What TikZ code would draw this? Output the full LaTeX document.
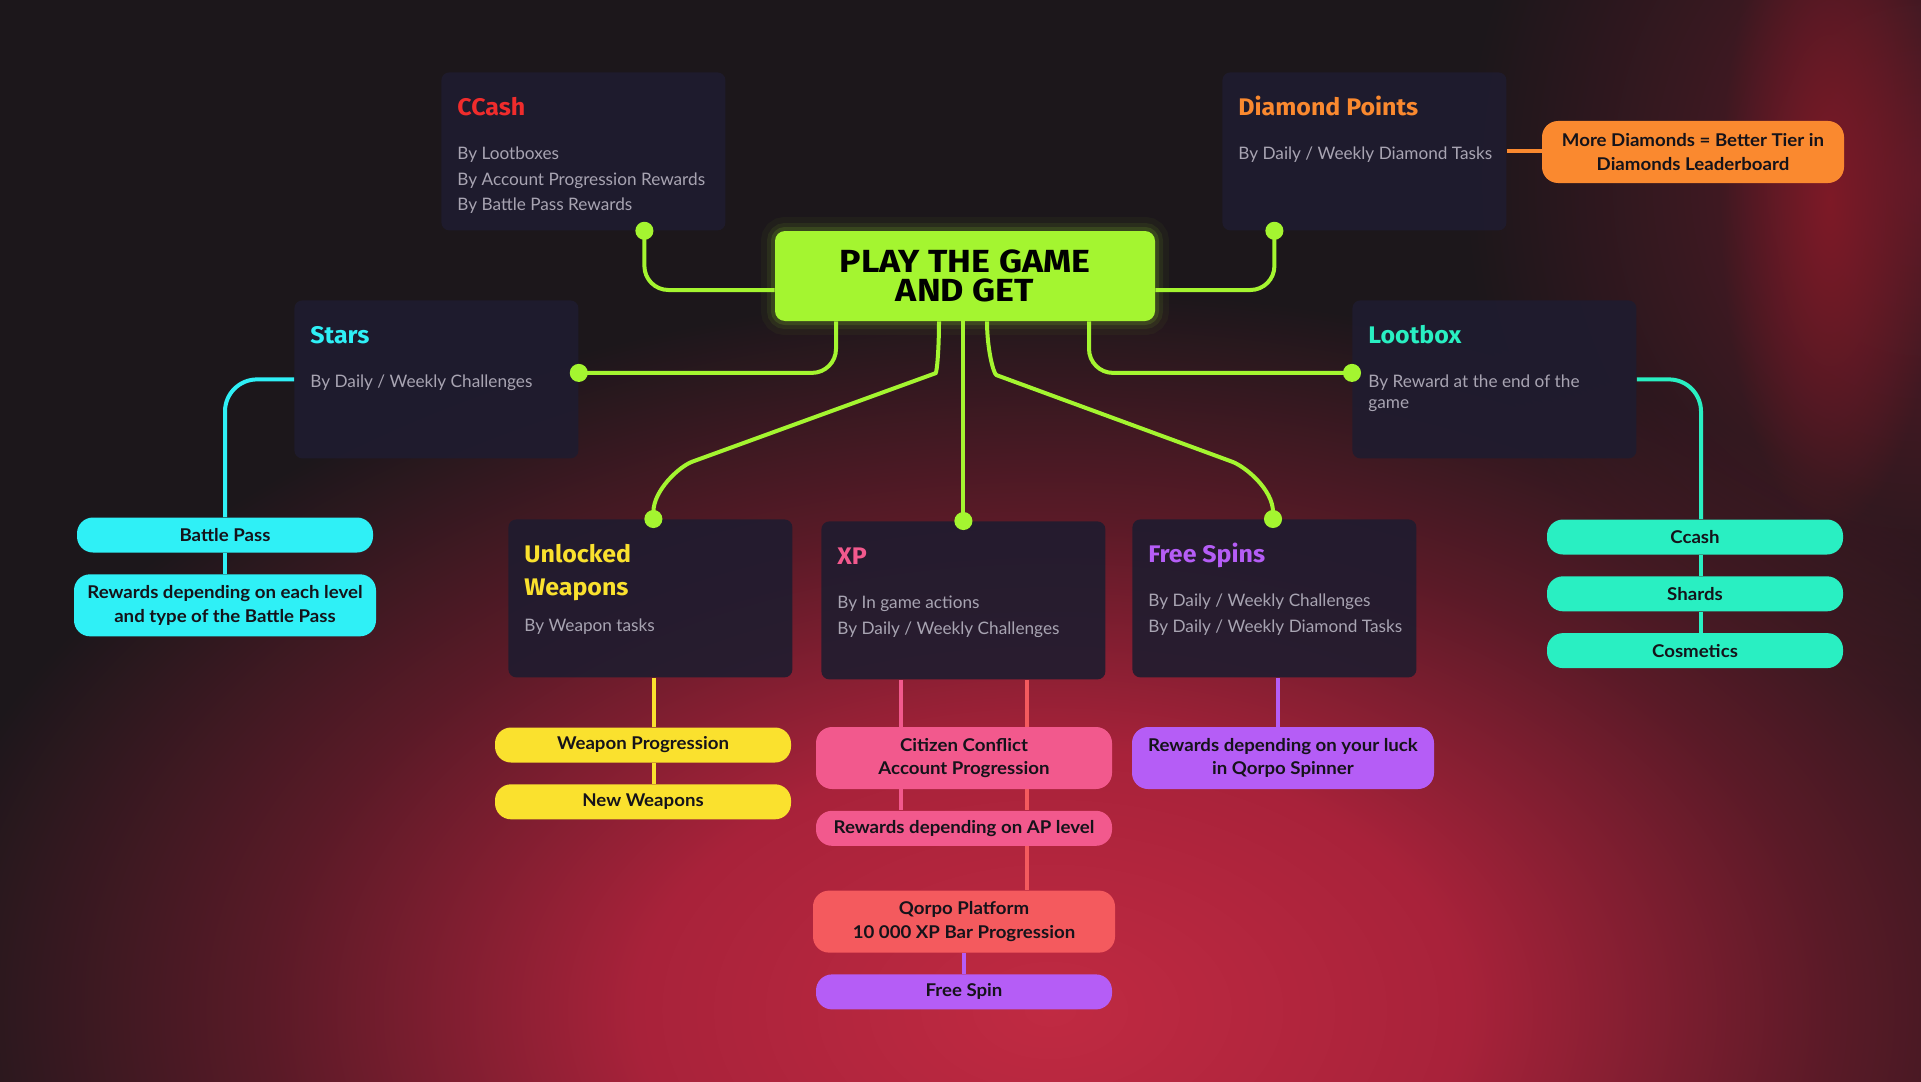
\documentclass[tikz,border=0pt]{standalone}
\usepackage{fontspec}
\setmainfont{Lato}
\newfontfamily\headfont{Fira Sans}[FakeStretch=1.04]
\newfontfamily\titlefont{Fira Sans}[FakeStretch=1.12]
\newfontfamily\pillfont{Lato}[FakeStretch=1.06]
\usepackage{tikz}
\usetikzlibrary{arrows.meta, positioning, fadings}

\definecolor{bgdark}{HTML}{1C171B}
\definecolor{bgmid}{HTML}{5A1A27}
\definecolor{bgred}{HTML}{A8223A}
\definecolor{bgbright}{HTML}{C02A42}
\definecolor{bgstreak}{HTML}{7E1A27}
\definecolor{cardbg}{HTML}{1F1C2F}
\definecolor{greytext}{HTML}{A8A4B2}
\definecolor{pilltext}{HTML}{15131A}
\definecolor{lime}{HTML}{A4F530}
\definecolor{ccashred}{HTML}{F02C2C}
\definecolor{diaorange}{HTML}{FA892F}
\definecolor{starcyan}{HTML}{2FF0F6}
\definecolor{lootteal}{HTML}{29EFC2}
\definecolor{weapyellow}{HTML}{FAE12E}
\definecolor{xppink}{HTML}{F2598D}
\definecolor{qorposalmon}{HTML}{F45A5E}
\definecolor{spinpurple}{HTML}{B55DF6}

\pgfdeclareradialshading{redglow}{\pgfpoint{0bp}{0bp}}{%
  color(0bp)=(bgbright); color(9bp)=(bgred); color(17bp)=(bgmid); color(25bp)=(bgdark); color(50bp)=(bgdark)}
\tikzfading[name=softglow, inner color=transparent!0, outer color=transparent!100]

% card text: heading on top, grey lines below
\newcommand{\cardtext}[4][9.15pt]{%
  \begin{minipage}[c][79pt][t]{142pt}\raggedright\leftskip=8pt
    \rule{0pt}{21.5pt}{\headfont\bfseries\fontsize{12}{16.5}\selectfont\color{#2}#3\par}
    \vspace{#1}
    {\fontsize{8.6}{10.5}\selectfont\setlength{\parskip}{2.35pt}\color{greytext}#4\par}
  \end{minipage}}

\begin{document}
\begin{tikzpicture}[x=0.5pt, y=-0.5pt,
    node distance=10.5pt,
    card/.style={anchor=north west, fill=cardbg, fill opacity=0.9, text opacity=1, rounded corners=4pt, inner sep=0pt},
    hub/.style={fill=lime, rounded corners=5pt, minimum width=190pt, minimum height=45pt, align=center, text=black,
      font=\titlefont\bfseries\fontsize{16}{14.5}\selectfont,
      preaction={draw=lime, line width=14pt, draw opacity=0.04},
      preaction={draw=lime, line width=8pt, draw opacity=0.07},
      preaction={draw=lime, line width=4pt, draw opacity=0.12}},
    pill/.style={rounded corners=8pt, minimum width=148pt, minimum height=17.5pt, inner sep=2pt, align=center,
      text=pilltext, font=\pillfont\bfseries\fontsize{8.8}{11.7}\selectfont},
    tall/.style={minimum height=31pt},
    link/.style={line width=2pt},
    lime link/.style={link, draw=lime, rounded corners=12pt, -{Circle[length=9pt]}}
  ]
  \useasboundingbox (0,0) rectangle (1921,1081);

  % blurred backdrop
  \fill[bgdark] (0,0) rectangle (1921,1081);
  \begin{scope}
    \clip (0,0) rectangle (1921,1081);
    \shade[shading=redglow] (1050,1010) ellipse [x radius=1150, y radius=720];
    \fill[bgmid, path fading=softglow] (1921,180) ellipse [x radius=460, y radius=520];
    \fill[bgstreak, path fading=softglow] (1830,200) ellipse [x radius=110, y radius=330];
  \end{scope}

  % cards
  \node[card] (ccash) at (441,72) {\cardtext{ccashred}{CCash}{By Lootboxes\par By Account Progression Rewards\par By Battle Pass Rewards}};
  \node[card] (diamond) at (1222,72) {\cardtext{diaorange}{Diamond Points}{By Daily / Weekly Diamond Tasks}};
  \node[card] (stars) at (294,300) {\cardtext{starcyan}{Stars}{By Daily / Weekly Challenges}};
  \node[card] (lootbox) at (1352,300) {\cardtext{lootteal}{Lootbox}{By Reward at the end of the\\game}};
  \node[card] (weapons) at (508,519) {\cardtext[5.15pt]{weapyellow}{Unlocked\\Weapons}{By Weapon tasks}};
  \node[card] (xp) at (821,521) {\cardtext{xppink}{XP}{By In game actions\par By Daily / Weekly Challenges}};
  \node[card] (spins) at (1132,519) {\cardtext{spinpurple}{Free Spins}{By Daily / Weekly Challenges\par By Daily / Weekly Diamond Tasks}};

  \node[hub] (hub) at (965,276) {PLAY THE GAME\\AND GET};

  % reward pills
  \node[pill, fill=diaorange, tall, minimum width=151pt] (moredia) at (1693,152) {More Diamonds = Better Tier in\\Diamonds Leaderboard};
  \node[pill, fill=starcyan] (battlepass) at (225,535) {Battle Pass};
  \node[pill, fill=starcyan, tall, minimum width=151pt, below=of battlepass] (bprewards) {Rewards depending on each level\\and type of the Battle Pass};
  \node[pill, fill=lootteal] (ccashpill) at (1695,537) {Ccash};
  \node[pill, fill=lootteal, below=of ccashpill] (shards) {Shards};
  \node[pill, fill=lootteal, below=of shards] (cosmetics) {Cosmetics};
  \node[pill, fill=weapyellow] (weapprog) at (643,745) {Weapon Progression};
  \node[pill, fill=weapyellow, below=of weapprog] (newweap) {New Weapons};
  \node[pill, fill=xppink, tall] (citizen) at (964,758) {Citizen Conflict\\Account Progression};
  \node[pill, fill=xppink, below=of citizen] (aplevel) {Rewards depending on AP level};
  \node[pill, fill=qorposalmon, tall, minimum width=151pt, below=22pt of aplevel] (qorpo) {Qorpo Platform\\10 000 XP Bar Progression};
  \node[pill, fill=spinpurple, below=of qorpo] (freespin) {Free Spin};
  \node[pill, fill=spinpurple, tall, minimum width=151pt] (luck) at (1283,758) {Rewards depending on your luck\\in Qorpo Spinner};

  % links from the hub
  \draw[lime link] ([yshift=-7pt]hub.west) -| ([xshift=30.5pt,yshift=4.5pt]ccash.south);
  \draw[lime link] ([yshift=-7pt]hub.east) -| ([xshift=-45pt,yshift=4.5pt]diamond.south);
  \draw[lime link] ([xshift=-64.5pt]hub.south) |- ([xshift=-4.5pt,yshift=3.25pt]stars.east);
  \draw[lime link] ([xshift=62pt]hub.south) |- ([xshift=4.5pt,yshift=3.25pt]lootbox.west);
  \draw[lime link] ([xshift=-13pt]hub.south) to[out=-90,in=20] ++(-13pt,-30pt) -- ++(-99pt,-36pt)
    to[out=200,in=90] ([xshift=1.5pt,yshift=-4.5pt]weapons.north);
  \draw[lime link] (hub.south -| xp.north) -- ([yshift=-4.5pt]xp.north);
  \draw[lime link] ([xshift=11pt]hub.south) to[out=-90,in=159.8] ++(16pt,-31pt) -- ++(95.25pt,-35pt)
    to[out=-20.2,in=90] ([xshift=-0.7pt,yshift=-4.5pt]spins.north);

  % card to pill links
  \draw[link, draw=diaorange] (diamond.east) -- (diamond.east -| moredia.west);
  \draw[link, draw=starcyan, rounded corners=16pt] (stars.west) -| (battlepass.north);
  \draw[link, draw=starcyan] (battlepass.south) -- (bprewards.north);
  \draw[link, draw=lootteal, rounded corners=16pt] (lootbox.east) -| ([xshift=3pt]ccashpill.north);
  \draw[link, draw=lootteal] ([xshift=3pt]ccashpill.south) -- ([xshift=3pt]shards.north);
  \draw[link, draw=lootteal] ([xshift=3pt]shards.south) -- ([xshift=3pt]cosmetics.north);
  \draw[link, draw=weapyellow] ([xshift=2pt]weapons.south) -- ([xshift=2pt]weapons.south |- weapprog.north);
  \draw[link, draw=weapyellow] ([xshift=2pt]weapons.south |- weapprog.south) -- ([xshift=2pt]weapons.south |- newweap.north);
  \draw[link, draw=xppink] ([xshift=-31pt]xp.south) -- ([xshift=-31pt]xp.south |- citizen.north);
  \draw[link, draw=xppink] ([xshift=-31pt]xp.south |- citizen.south) -- ([xshift=-31pt]xp.south |- aplevel.north);
  \draw[link, draw=qorposalmon] ([xshift=32pt]xp.south) -- ([xshift=32pt]xp.south |- citizen.north);
  \draw[link, draw=qorposalmon] ([xshift=32pt]xp.south |- citizen.south) -- ([xshift=32pt]xp.south |- aplevel.north);
  \draw[link, draw=qorposalmon] ([xshift=32pt]xp.south |- aplevel.south) -- ([xshift=32pt]xp.south |- qorpo.north);
  \draw[link, draw=spinpurple] (qorpo.south) -- (freespin.north);
  \draw[link, draw=spinpurple] ([xshift=2pt]spins.south) -- ([xshift=2pt]spins.south |- luck.north);
\end{tikzpicture}
\end{document}
